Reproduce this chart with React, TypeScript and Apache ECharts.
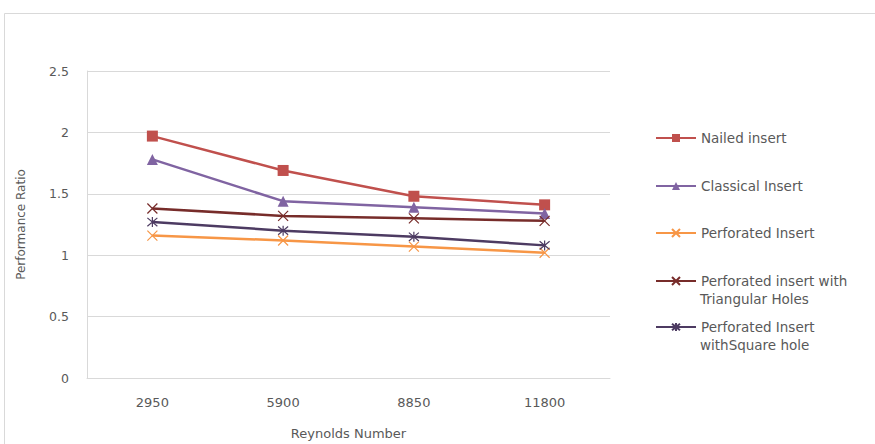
import React, { useEffect, useRef } from "react";
import * as echarts from "echarts";

const categories = ["2950", "5900", "8850", "11800"];
const nailed = [1.97, 1.69, 1.48, 1.41];
const classical = [1.78, 1.44, 1.39, 1.34];
const perforated = [1.16, 1.12, 1.07, 1.02];
const triangular = [1.38, 1.32, 1.3, 1.28];
const square = [1.27, 1.2, 1.15, 1.08];
const yTicks = [0, 0.5, 1, 1.5, 2, 2.5];
const seriesNames = [
  "Nailed insert",
  "Classical Insert",
  "Perforated Insert",
  "Perforated insert with\nTriangular Holes",
  "Perforated Insert\nwithSquare hole",
];

const CROSS = "path://M0,0L10,10M10,0L0,10";
const STAR = "path://M0,0L10,10M10,0L0,10M5,-1L5,11";

const FONT = "DejaVu Sans";
const TEXT = "#595959";
const LEGEND_SIZE = 13.5;

export default function App() {
  const ref = useRef<HTMLDivElement>(null);

  useEffect(() => {
    const chart = echarts.init(ref.current!, null, { renderer: "svg" });

    const series = [
      { data: nailed, color: "#C0504D", symbol: "rect", size: 11, stroke: false },
      { data: classical, color: "#8064A2", symbol: "triangle", size: 11, stroke: false },
      { data: perforated, color: "#F79646", symbol: CROSS, size: 10, stroke: true },
      { data: triangular, color: "#772C2A", symbol: CROSS, size: 10, stroke: true },
      { data: square, color: "#4D3B62", symbol: STAR, size: 10, stroke: true },
    ];
    // centre line of each legend entry's first row
    const legendRows = [137, 185, 232, 280, 326];

    // second rows of the two-line legend entries
    const secondLines = seriesNames
      .map((n, i) => ({ parts: n.split("\n"), i }))
      .filter((o) => o.parts.length > 1)
      .map((o) => ({
        type: "text",
        x: 700,
        y: legendRows[o.i] + 19,
        silent: true,
        style: {
          text: o.parts[1],
          fill: TEXT,
          font: `${LEGEND_SIZE}px "${FONT}"`,
          verticalAlign: "middle",
          align: "left",
        },
      }));

    chart.setOption({
      animation: false,
      grid: { left: 87, right: 265, top: 71, bottom: 66, outerBoundsMode: "none" },
      xAxis: {
        type: "category",
        data: categories,
        name: "Reynolds Number",
        nameLocation: "middle",
        nameGap: 49,
        nameTextStyle: { color: TEXT, fontFamily: FONT, fontSize: 13 },
        axisLine: { lineStyle: { color: "#D9D9D9" } },
        axisTick: { show: false },
        axisLabel: { color: TEXT, fontFamily: FONT, fontSize: 13, margin: 18 },
      },
      yAxis: {
        type: "value",
        min: yTicks[0],
        max: yTicks[yTicks.length - 1],
        interval: 0.5,
        name: "Performance Ratio",
        nameLocation: "middle",
        nameGap: 60,
        nameTextStyle: { color: TEXT, fontFamily: FONT, fontSize: 12 },
        axisLine: { show: true, lineStyle: { color: "#D9D9D9" } },
        axisTick: { show: false },
        splitLine: { lineStyle: { color: "#D9D9D9" } },
        axisLabel: { color: TEXT, fontFamily: FONT, fontSize: 12.5, margin: 18 },
      },
      legend: seriesNames.map((name, i) => ({
        data: [name],
        left: 650,
        top: legendRows[i] - 11,
        itemWidth: 40,
        itemHeight: 10,
        formatter: (n: string) => n.split("\n")[0],
        textStyle: { color: TEXT, fontFamily: FONT, fontSize: LEGEND_SIZE },
      })),
      series: series.map((s, i) => ({
        type: "line",
        name: seriesNames[i],
        data: s.data,
        symbol: s.symbol,
        symbolSize: s.size,
        color: s.color,
        lineStyle: { color: s.color, width: 2.5 },
        itemStyle: s.stroke
          ? { color: "rgba(0,0,0,0)", borderColor: s.color, borderWidth: 1.2 }
          : { color: s.color, borderWidth: 0 },
      })),
      graphic: [
        {
          type: "rect",
          shape: { x: 4.5, y: 13.5, width: 880, height: 450 },
          style: { fill: "none", stroke: "#D9D9D9", lineWidth: 1 },
          silent: true,
        },
        ...secondLines,
      ],
    });

    return () => chart.dispose();
  }, []);

  return (
    <div
      ref={ref}
      style={{ position: "fixed", left: 0, top: 0, width: 875, height: 444, background: "#fff" }}
    />
  );
}
